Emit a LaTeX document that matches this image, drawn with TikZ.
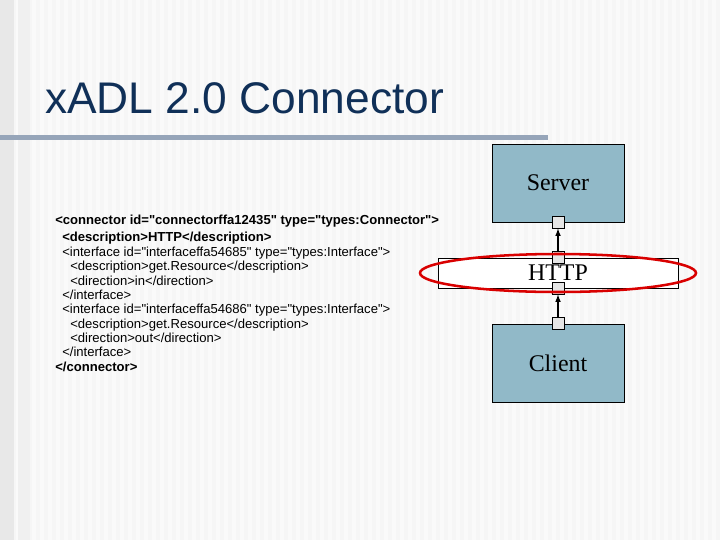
\documentclass[tikz,border=0pt]{standalone}
\usepackage{fontspec}
\setmainfont{Liberation Serif}
\newfontfamily\arialfont{Liberation Sans}
\usetikzlibrary{positioning}
\definecolor{titleblue}{RGB}{16,48,88}
\definecolor{barblue}{RGB}{150,165,185}
\definecolor{boxblue}{RGB}{145,185,200}
\definecolor{portgray}{RGB}{230,230,230}
\tikzset{
  comp/.style={draw, fill=boxblue, minimum width=3.3cm, minimum height=1.95cm, font=\fontsize{17}{17}\selectfont},
  conn/.style={draw, fill=white, minimum width=6cm, minimum height=0.75cm, inner sep=0pt, font=\fontsize{17}{17}\selectfont},
  port/.style={draw, fill=portgray, minimum size=0.3cm, inner sep=0pt},
  code/.style={anchor=base west, font=\arialfont\fontsize{9.3}{10}\selectfont, inner sep=0pt}
}
\begin{document}
\begin{tikzpicture}[x=0.025cm, y=-0.025cm]
	% Background
	\fill[gray!7] (0,0) rectangle (720,540);
	\foreach \s in {0,8,...,712}
		\fill[white!60!gray!10] (\s,0) rectangle (\s+4,540);
	\fill[gray!18] (0,0) rectangle (14,540);
	\fill[gray!12] (18,0) rectangle (30,540);
	\useasboundingbox (0,0) rectangle (720,540);

	% Title
	\node[anchor=base west, inner sep=0pt, text=titleblue, font=\arialfont\fontsize{31.5}{32}\selectfont] (title) at (45,113) {xADL 2.0 Connector};
	\fill[barblue] (0,135) rectangle (548,140);

	% Components and connector
	\node[comp] (server) at (558,183) {Server};
	\node[conn] (http) at (558,273) {HTTP};
	\node[comp] (client) at (558,363) {Client};

	% Ports
	\node[port] (ps) at (server.south) {};
	\node[port] (ph1) at (http.north) {};
	\node[port] (ph2) at (http.south) {};
	\node[port] (pc) at (client.north) {};

	% Links
	\draw[thick, -latex] (ph1) -- (ps);
	\draw[thick, -latex] (pc) -- (ph2);

	% Highlight
	\draw[red!85!black, line width=1.8pt] (http.center) ellipse (138 and 19);

	% XML text
	\node[code, font=\arialfont\bfseries\fontsize{9.3}{10}\selectfont] (l1) at (55,224) {<connector id="connectorffa12435" type="types:Connector">};
	\node[code, font=\arialfont\bfseries\fontsize{9.3}{10}\selectfont] (l2) at (62,241) {<description>HTTP</description>};
	\node[code] (l3) at (62,256) {<interface id="interfaceffa54685" type="types:Interface">};
	\node[code] (l4) at (70,270) {<description>get.Resource</description>};
	\node[code] (l5) at (70,285) {<direction>in</direction>};
	\node[code] (l6) at (62,299) {</interface>};
	\node[code] (l7) at (62,313) {<interface id="interfaceffa54686" type="types:Interface">};
	\node[code] (l8) at (70,328) {<description>get.Resource</description>};
	\node[code] (l9) at (70,342) {<direction>out</direction>};
	\node[code] (l10) at (62,356) {</interface>};
	\node[code, font=\arialfont\bfseries\fontsize{9.3}{10}\selectfont] (l11) at (55,371) {</connector>};
\end{tikzpicture}
\end{document}
